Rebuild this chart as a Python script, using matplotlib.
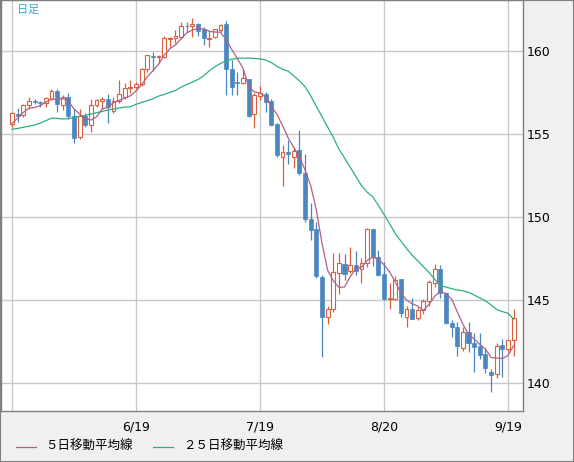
import matplotlib
matplotlib.use('Agg')
import matplotlib.pyplot as plt
from matplotlib.lines import Line2D
from matplotlib.patches import Rectangle

plt.rcParams['font.family'] = ['DejaVu Sans', 'Noto Sans CJK JP']

# daily candles, 5/20 .. 9/20
opens = [155.60, 156.19, 156.13, 156.73, 156.99, 156.93, 156.85, 157.13, 157.61, 156.73,
         157.21, 156.08, 154.80, 156.08, 155.56, 156.73, 157.01, 157.09, 156.37, 156.97,
         157.25, 157.75, 157.81, 157.99, 158.90, 159.70, 159.62, 159.66, 160.74, 160.77,
         160.83, 161.53, 161.49, 161.63, 161.31, 160.75, 160.83, 161.27, 161.63, 158.93,
         158.15, 158.06, 158.30, 156.19, 157.31, 157.41, 156.99, 155.60, 153.63, 153.92,
         153.60, 154.04, 152.63, 149.86, 149.26, 146.40, 143.99, 144.44, 146.61, 147.17,
         146.73, 147.09, 146.85, 147.21, 149.26, 147.57, 146.57, 145.04, 145.08, 146.25,
         143.96, 144.44, 143.89, 144.40, 144.92, 146.04, 146.87, 145.44, 143.60, 143.36,
         142.10, 143.08, 142.39, 142.23, 141.75, 140.64, 140.52, 142.27, 142.03, 142.59]
highs = [156.33, 156.55, 156.81, 157.21, 157.13, 157.00, 157.25, 157.69, 157.73, 157.37,
         157.45, 156.49, 156.52, 156.28, 157.09, 157.13, 157.21, 157.41, 157.25, 158.25,
         158.05, 158.25, 158.15, 158.96, 159.78, 159.96, 159.76, 160.90, 160.86, 161.27,
         161.75, 161.77, 161.97, 161.70, 161.43, 161.27, 161.35, 161.63, 161.83, 159.46,
         158.75, 158.86, 158.33, 157.45, 157.89, 157.55, 157.13, 155.64, 154.34, 154.64,
         154.20, 155.24, 153.80, 150.86, 149.72, 146.51, 144.64, 147.85, 147.81, 147.75,
         148.21, 147.95, 147.51, 149.34, 149.28, 148.01, 147.29, 146.00, 146.45, 146.28,
         144.64, 145.10, 144.56, 145.08, 146.20, 147.17, 147.12, 145.50, 143.80, 143.70,
         143.36, 143.70, 143.03, 142.99, 142.09, 140.84, 142.39, 142.63, 142.67, 144.44]
lows = [155.44, 155.74, 156.04, 156.49, 156.79, 156.64, 156.64, 157.05, 156.34, 156.45,
        155.89, 154.48, 154.72, 155.40, 155.10, 156.61, 156.52, 155.68, 156.28, 156.85,
        157.13, 157.45, 157.65, 157.89, 158.75, 158.81, 159.26, 159.60, 160.26, 160.46,
        160.70, 161.16, 160.83, 160.90, 160.36, 160.26, 160.77, 161.16, 157.35, 157.35,
        157.35, 158.01, 156.00, 155.34, 157.05, 156.34, 155.48, 153.60, 151.87, 153.19,
        152.97, 152.55, 149.70, 148.61, 146.34, 141.58, 143.55, 144.30, 145.34, 146.20,
        146.65, 146.51, 146.04, 147.01, 147.05, 146.45, 144.98, 144.44, 145.00, 143.99,
        143.39, 143.84, 143.80, 144.16, 144.64, 145.76, 145.10, 143.55, 142.79, 141.63,
        141.93, 141.89, 140.68, 141.43, 140.62, 139.48, 140.28, 140.34, 141.89, 141.63]
closes = [156.25, 156.10, 156.73, 156.97, 156.91, 156.85, 157.15, 157.61, 156.81, 157.25,
          156.08, 154.78, 156.07, 155.54, 156.73, 157.05, 157.09, 156.61, 156.97, 157.39,
          157.75, 157.80, 157.99, 158.90, 159.74, 159.62, 159.70, 160.77, 160.80, 160.90,
          161.51, 161.49, 161.61, 161.22, 160.77, 160.79, 161.31, 161.55, 158.93, 157.85,
          158.05, 158.36, 156.08, 157.35, 157.45, 156.91, 155.54, 153.73, 153.90, 153.78,
          153.98, 152.63, 149.86, 149.22, 146.45, 143.99, 144.44, 146.69, 147.21, 146.57,
          147.09, 146.77, 147.21, 149.26, 147.57, 146.51, 145.04, 145.10, 146.20, 144.24,
          144.44, 143.87, 144.40, 144.92, 146.08, 146.85, 145.40, 143.60, 143.36, 142.25,
          143.08, 142.39, 142.19, 141.69, 140.89, 140.50, 142.25, 142.03, 142.59, 143.90]

ma5 = [155.64, 155.95, 156.30, 156.55, 156.59, 156.71, 156.92, 157.10, 157.07, 157.13,
       156.98, 156.51, 156.20, 155.94, 155.84, 156.03, 156.50, 156.60, 156.89, 157.02,
       157.16, 157.30, 157.58, 157.97, 158.44, 158.81, 159.19, 159.75, 160.13, 160.36,
       160.74, 161.09, 161.26, 161.35, 161.32, 161.18, 161.14, 161.13, 160.67, 160.09,
       159.54, 158.95, 157.85, 157.54, 157.46, 157.23, 156.67, 156.20, 155.51, 154.77,
       154.19, 153.60, 152.83, 151.89, 150.43, 148.43, 146.79, 146.16, 145.76, 145.78,
       146.40, 146.87, 146.97, 147.38, 147.58, 147.46, 147.12, 146.70, 146.08, 145.42,
       145.00, 144.77, 144.63, 144.37, 144.74, 145.22, 145.53, 145.37, 145.06, 144.29,
       143.54, 142.94, 142.65, 142.32, 142.05, 141.53, 141.50, 141.47, 141.65, 142.25]
ma25 = [155.28, 155.33, 155.40, 155.47, 155.54, 155.65, 155.80, 155.95, 155.94, 155.90,
        155.92, 156.00, 156.06, 156.12, 156.20, 156.28, 156.36, 156.44, 156.50, 156.56,
        156.62, 156.64, 156.78, 156.90, 157.00, 157.12, 157.28, 157.38, 157.50, 157.62,
        157.82, 157.98, 158.12, 158.28, 158.50, 158.80, 159.05, 159.25, 159.40, 159.50,
        159.56, 159.57, 159.57, 159.55, 159.52, 159.46, 159.30, 159.08, 158.90, 158.78,
        158.50, 158.20, 157.85, 157.30, 156.66, 156.05, 155.42, 154.80, 154.10, 153.55,
        153.00, 152.45, 151.90, 151.50, 151.22, 150.70, 150.15, 149.60, 149.00, 148.55,
        148.10, 147.70, 147.35, 147.00, 146.65, 146.25, 145.85, 145.78, 145.68, 145.60,
        145.55, 145.46, 145.30, 145.12, 144.95, 144.70, 144.42, 144.30, 144.20, 143.85]

tick_pos = [0, 22, 44, 66, 88]
tick_labels = ['', '6/19', '7/19', '8/20', '9/19']
y_ticks = [140, 145, 150, 155, 160]

UP = '#d9603e'
DOWN = '#4a87c0'
MA5_COL = '#b45f86'
MA25_COL = '#2bb07c'

W, H = 574, 462
fig = plt.figure(figsize=(W / 100, H / 100), dpi=100, facecolor='#f0f0f0')
ax = fig.add_axes([1 / W, 51 / H, 522 / W, 411 / H])
ax.set_facecolor('white')

x = list(range(len(closes)))
up_x = [i for i in x if closes[i] >= opens[i]]
dn_x = [i for i in x if closes[i] < opens[i]]

# wicks first, bodies on top so hollow bodies hide them
ax.vlines(up_x, [lows[i] for i in up_x], [highs[i] for i in up_x], color=UP, lw=0.9, zorder=2)
ax.vlines(dn_x, [lows[i] for i in dn_x], [highs[i] for i in dn_x], color=DOWN, lw=0.9, zorder=2)
ax.bar(up_x, [max(closes[i] - opens[i], 0.03) for i in up_x], bottom=[opens[i] for i in up_x],
       width=0.68, facecolor='white', edgecolor=UP, linewidth=0.8, zorder=3)
ax.bar(dn_x, [max(opens[i] - closes[i], 0.03) for i in dn_x], bottom=[closes[i] for i in dn_x],
       width=0.72, facecolor=DOWN, edgecolor=DOWN, linewidth=0.5, zorder=3)

ax.plot(x, ma25, color=MA25_COL, lw=0.9, zorder=4)
ax.plot(x, ma5, color=MA5_COL, lw=0.9, zorder=4)

ax.set_xlim(-1.95, 90.67)
ax.set_ylim(138.31, 163.07)
ax.set_xticks(tick_pos)
ax.set_xticklabels(tick_labels)
ax.set_yticks(y_ticks)
ax.yaxis.tick_right()
ax.tick_params(axis='y', length=0, pad=3, labelsize=9)
ax.tick_params(axis='x', length=0, pad=7, labelsize=9)
ax.grid(True, color='#c8c8c8', lw=1)
ax.set_axisbelow(True)
for s in ax.spines.values():
    s.set_color('#7f7f7f')
    s.set_linewidth(1)

fig.text(17 / W, (H - 10) / H, '日足', color='#2aa8e0', fontsize=8, va='center', ha='left',
         family=['Noto Sans CJK JP', 'DejaVu Sans'])

# legend drawn by hand under the axis
ly = (H - 446.5) / H
fig.add_artist(Line2D([16 / W, 36 / W], [ly, ly], color=MA5_COL, lw=0.9))
fig.text(45 / W, ly, '５日移動平均線', fontsize=9, va='center', ha='left',
         family=['Noto Sans CJK JP', 'DejaVu Sans'])
fig.add_artist(Line2D([153 / W, 173 / W], [ly, ly], color=MA25_COL, lw=0.9))
fig.text(183 / W, ly, '２５日移動平均線', fontsize=9, va='center', ha='left',
         family=['Noto Sans CJK JP', 'DejaVu Sans'])

fig.add_artist(Rectangle((0, 0), 1, 1, transform=fig.transFigure, fill=False,
                         edgecolor='#7f7f7f', lw=1.5))

fig.savefig('out.png', dpi=100, facecolor=fig.get_facecolor())
